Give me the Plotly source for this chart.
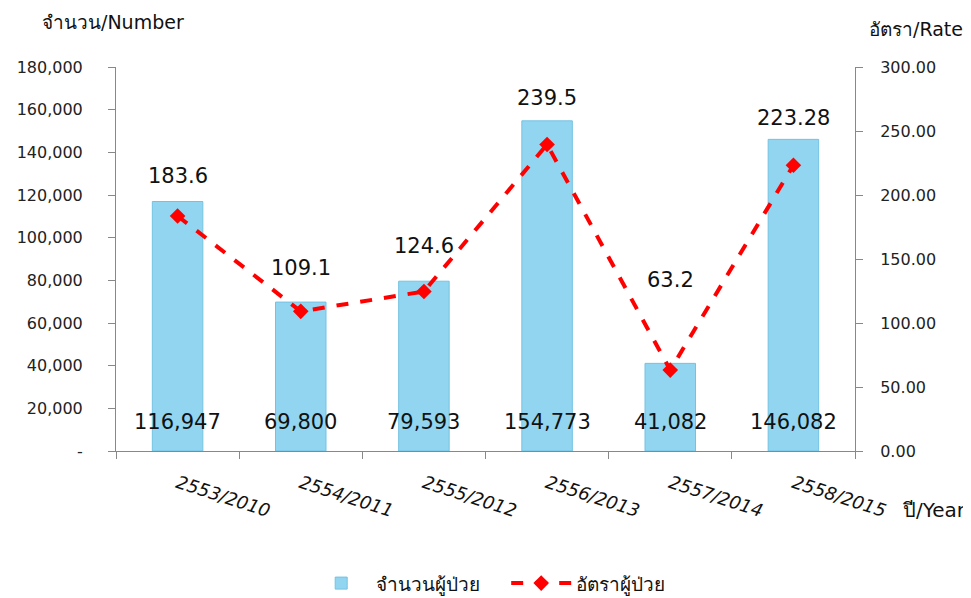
import plotly.graph_objects as go

# data
years = ["2553/2010", "2554/2011", "2555/2012", "2556/2013", "2557/2014", "2558/2015"]
patients = [116947, 69800, 79593, 154773, 41082, 146082]
rates = [183.6, 109.1, 124.6, 239.5, 63.2, 223.28]
left_ticks = [0, 20000, 40000, 60000, 80000, 100000, 120000, 140000, 160000, 180000]
right_ticks = [0, 50, 100, 150, 200, 250, 300]

FONT = "Tahoma, 'DejaVu Sans', sans-serif"
rate_label_shift = [40, 43, 46, 46, 90, 47]

fig = go.Figure()

fig.add_trace(go.Bar(
    x=years, y=patients, name="จำนวนผู้ป่วย",
    marker=dict(color="#92D5F0", line=dict(color="#74C2E2", width=1)),
    width=0.41,
))

fig.add_trace(go.Scatter(
    x=years, y=rates, name="อัตราผู้ป่วย", yaxis="y2",
    mode="lines+markers",
    line=dict(color="#FF0000", width=4, dash="dash"),
    marker=dict(symbol="diamond", size=12, color="#FF0000"),
))

# value labels
for i, yr in enumerate(years):
    fig.add_annotation(x=yr, y=0, yref="y", text=f"{patients[i]:,}",
                       showarrow=False, yshift=29, yanchor="middle",
                       font=dict(size=21, color="#111111", family=FONT))
    fig.add_annotation(x=yr, y=rates[i], yref="y2", text=f"{rates[i]:g}",
                       showarrow=False, yshift=rate_label_shift[i], yanchor="middle",
                       font=dict(size=21, color="#111111", family=FONT))

# axis titles
fig.add_annotation(xref="x domain", yref="y domain", x=-0.103, y=1.117,
                   text="จำนวน/Number", showarrow=False, xanchor="left", yanchor="middle",
                   font=dict(size=19, color="#111111", family=FONT))
fig.add_annotation(xref="x domain", yref="y domain", x=1.149, y=1.10, text="อัตรา/Rate",
                   showarrow=False, xanchor="right", yanchor="middle",
                   font=dict(size=19, color="#111111", family=FONT))
fig.add_annotation(xref="x domain", yref="y domain", x=1.153, y=-0.154, text="ปี/Year",
                   showarrow=False, xanchor="right", yanchor="middle",
                   font=dict(size=20, color="#111111", family=FONT))

# page body has an 8px margin, so the figure is 8px smaller than the window
fig.update_layout(
    width=963, height=590,
    margin=dict(l=108, r=116, t=59, b=147),
    plot_bgcolor="white", paper_bgcolor="white",
    font=dict(family=FONT, color="#222222"),
    showlegend=True,
    legend=dict(orientation="h", x=0.528, xanchor="center", yref="container",
                y=0.025, yanchor="middle", font=dict(size=19, color="#111111"),
                itemwidth=60, entrywidth=125),
    xaxis=dict(
        type="category", tickson="boundaries", ticks="outside", ticklen=7,
        tickcolor="#888888", showline=True, linecolor="#888888", linewidth=1,
        tickangle=18, tickfont=dict(size=18, style="italic", color="#111111"),
        ticklabelstandoff=14,
        showgrid=False, automargin=False,
    ),
    yaxis=dict(
        range=[0, 180000], tickvals=left_ticks,
        ticktext=["-"] + [f"{v:,}" for v in left_ticks[1:]],
        ticks="outside", ticklen=7, tickcolor="#888888",
        showline=True, linecolor="#888888", linewidth=1,
        showgrid=False, zeroline=False, ticklabelstandoff=22,
        tickfont=dict(size=16, color="#222222"), automargin=False,
    ),
    yaxis2=dict(
        range=[0, 300], tickvals=right_ticks,
        ticktext=[f"{v:.2f}" for v in right_ticks],
        overlaying="y", side="right",
        ticks="outside", ticklen=7, tickcolor="#888888",
        showline=True, linecolor="#888888", linewidth=1,
        showgrid=False, zeroline=False, ticklabelstandoff=14,
        tickfont=dict(size=16, color="#222222"), automargin=False,
    ),
)

fig.write_html("out.html")
